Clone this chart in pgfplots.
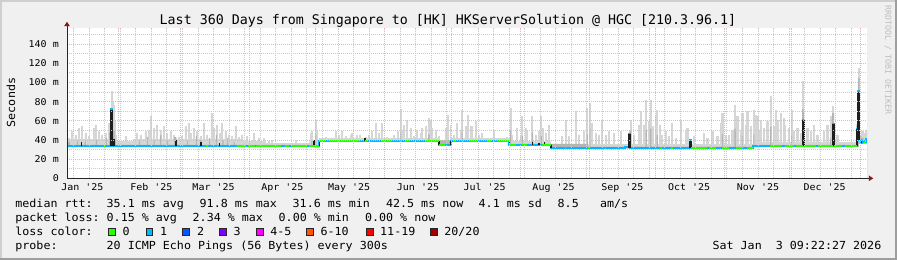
\documentclass[border=0pt]{standalone}
\usepackage{fontspec}
\usepackage{pgfplots}
\pgfplotsset{compat=1.18}
\usetikzlibrary{arrows.meta}
\newfontfamily\legfamily[FakeStretch=1.052,Ligatures=TeXOff]{DejaVu Sans Mono}
\newfontfamily\titfamily[Ligatures=TeXOff]{DejaVu Sans Mono}
\newfontfamily\tickfamily[FakeStretch=1.075,Ligatures=TeXOff]{DejaVu Sans Mono}
\newcommand\lfont{\legfamily\fontsize{11.1bp}{13bp}\selectfont}
\newcommand\tfont{\titfamily\fontsize{13.3bp}{15bp}\selectfont}
\newcommand\kfont{\tickfamily\fontsize{9.3bp}{11bp}\selectfont}
\newcommand\sfont{\titfamily\fontsize{8.3bp}{10bp}\selectfont}
\definecolor{bgc}{HTML}{F0F0F0}
\definecolor{shadeA}{HTML}{CFCFCF}
\definecolor{shadeB}{HTML}{9E9E9E}
\definecolor{arrowred}{HTML}{8B1A1A}
\definecolor{gridred}{HTML}{F5B0B0}
\definecolor{gridgray}{HTML}{CBCBCB}
\definecolor{smoke}{HTML}{D6D6D6}
\definecolor{smokemid}{HTML}{B4B4B4}
\definecolor{medblue}{HTML}{00B8FF}
\definecolor{lossgreen}{HTML}{26FF00}
\definecolor{smokeblack}{HTML}{1E1E1E}
\definecolor{lc2}{HTML}{0059FF}
\definecolor{lc3}{HTML}{7E00FF}
\definecolor{lc5}{HTML}{FF00FF}
\definecolor{lc10}{HTML}{FF5500}
\definecolor{lc19}{HTML}{FF0000}
\definecolor{lc20}{HTML}{A10000}
\definecolor{rrdgray}{HTML}{BDBDBD}
\begin{document}
\begin{tikzpicture}
\begin{scope}[x=1bp,y=1bp]
\fill[bgc] (0,0) rectangle (897,260);
\fill[shadeA] (0,0) rectangle (2,260);
\fill[shadeA] (0,258) rectangle (897,260);
\fill[shadeB] (895,0) rectangle (897,260);
\fill[shadeB] (0,0) rectangle (897,2);
\end{scope}
\begin{axis}[
  at={(67bp,81.7bp)}, anchor=south west,
  scale only axis, width=800bp, height=150.3bp,
  xmin=8.05, xmax=368.05, ymin=0, ymax=157,
  axis on top,
  axis background/.style={fill=white},
  axis lines=left,
  axis line style={draw=black!85, line width=1bp},
  x axis line style={-{Triangle[length=4.5bp,width=5.5bp,color=arrowred]}, shorten >=-6.3bp},
  y axis line style={-{Triangle[length=4.5bp,width=5.5bp,color=arrowred]}, shorten >=-6.3bp},
  major tick length=0pt, minor tick length=0pt,
  xtick={15,46,74,105,135,166,196,227,258,288,319,349},
  xticklabels={{Jan '25},{Feb '25},{Mar '25},{Apr '25},{May '25},{Jun '25},{Jul '25},{Aug '25},{Sep '25},{Oct '25},{Nov '25},{Dec '25}},
  xticklabel style={font=\kfont, anchor=base, inner sep=0pt, yshift=-12bp},
  extra x ticks={31,59,90,120,151,181,212,243,273,304,334,365},
  extra x tick labels={},
  extra x tick style={grid=major},
  minor xtick={11,18,...,361},
  xminorgrids=true,
  ytick={0,20,...,140},
  yticklabels={0,20 m,40 m,60 m,80 m,100 m,120 m,140 m},
  minor ytick={10,30,...,150},
  ymajorgrids=true, yminorgrids=true,
  yticklabel style={font=\kfont, anchor=east, inner sep=0pt, xshift=-8bp},
  major grid style={draw=gridred, line width=1bp, dash pattern=on 1bp off 1bp},
  minor grid style={draw=gridgray, line width=1bp, dash pattern=on 1bp off 1bp},
]
% smoke (max of pings)
\addplot[const plot, fill=smoke, draw=smoke, line width=0.8bp] coordinates {
(8.05,40.5)(8.64,41.8)(9.14,40.5)(10.14,48.7)(10.64,40.5)(11.64,45.3)(12.14,40.5)
(13.14,52.2)(13.64,40.5)(14.64,54.0)(15.14,40.5)(16.14,47.0)(16.64,40.5)(17.64,43.5)(18.14,40.5)
(19.89,52.2)(20.39,40.5)(20.64,55.7)(21.14,40.5)(22.14,48.7)(22.64,40.5)(23.64,45.3)(24.14,40.5)
(25.14,47.0)(25.64,40.5)(26.64,57.4)(27.14,45)(27.5,67.9)(28.0,90.5)(28.5,80)(28.9,76.6)
(29.4,60.9)(29.9,45)(30.4,38.5)(34.14,43.5)(34.64,38.5)(38,41)
(39.39,47.0)(39.89,41)(40.89,45.3)(41.39,41)(43.14,48.7)(43.64,41)(44.64,50.5)(45.14,41)
(45.69,64.4)(46.19,41)(46.89,52.2)(47.39,41)(48.39,55.7)(48.89,41)(49.89,50.5)(50.39,41)
(51.39,54.0)(51.89,41)(52.89,47.0)(53.39,41)(54.39,48.7)(54.89,41)(55.89,45.3)(56.39,41)
(58.14,43)(58.64,41)(59.64,43.5)(60.14,41)(61.14,54.0)(61.64,41)(62.64,57.4)(63.14,41)
(63.39,47.0)(63.89,41)(64.89,52.2)(65.39,41)(66.39,48.7)(66.89,41)(67.89,43.5)(68.39,41)
(69.39,57.4)(69.89,41)(70.89,45.3)(71.39,41)(72.84,67.9)(73.34,41)(73.89,52.2)(74.39,41)
(75.39,55.7)(75.89,41)(76.59,47.0)(77.09,41)(77.64,57.4)(78.14,41)(79.14,48.7)(79.64,41)
(80.64,45.3)(81.14,41)(82.14,43.5)(82.64,41)(83.64,54.0)(84.14,41)(85.14,43)(85.64,41)
(86,38.5)(86.64,45.3)(87.14,38.5)(88.89,43.5)(89.39,38.5)(91.14,40.0)(91.64,38.5)
(91.89,47.0)(92.39,38.5)(94.14,41.8)(94.64,38.5)(96.39,41.8)(96.89,38.5)
(97.2,36)(98.64,38.3)(99.14,36)(100.17,40.0)(100.67,36)(110.67,39.3)(111.17,36)
(117,38)(117.42,47.0)(117.92,48.7)(118.42,38)(119.67,60.9)(120.17,50.5)(120.67,38)
(121.6,41.5)(124.17,42.5)(124.67,41.5)(128.67,48.7)(129.17,41.5)(130.17,45.3)(130.67,41.5)
(131.37,48.7)(131.87,41.5)(133.17,43.5)(133.67,41.5)(135.42,45.3)(135.92,41.5)
(136.17,47.0)(136.67,41.5)(138.42,45.3)(138.92,41.5)(139.47,45.3)(139.97,41.5)
(142.17,43)(142.67,41.5)(143.67,45.3)(144.17,41.5)(145.17,48.7)(145.67,41.5)
(146.97,57.4)(147.47,41.5)(148.17,47.0)(148.67,41.5)(149.67,57.4)(150.17,41.5)
(151.92,43)(152.42,41.5)(154.92,45.3)(155.42,41.5)(156.72,48.7)(157.22,41.5)
(157.92,72.4)(158.42,41.5)(158.67,50.5)(159.17,41.5)(159.42,55.7)(159.92,41.5)
(160.92,60.9)(161.42,41.5)(162.42,52.2)(162.92,41.5)(163.92,43.5)(164.42,41.5)
(165.42,50.5)(165.92,41.5)(166.92,47.0)(167.42,52.2)(167.92,41.5)(169.17,54.0)(169.67,41.5)
(170.67,62.7)(171.17,41.5)(171.42,60.9)(171.92,41.5)(172.17,52.2)(172.67,41.5)
(173.67,50.5)(174.17,41.5)(175.17,43.5)(175.5,37)(178.17,52.2)(178.67,37)
(179.37,66.2)(179.87,37)(180.42,55.7)(180.7,41.5)(181.92,45.3)(182.42,41.5)
(183.42,57.4)(183.92,41.5)(184.92,50.5)(185.42,41.5)(185.67,71.4)(186.17,41.5)
(187.17,54.0)(187.67,41.5)(188.37,66.2)(188.87,41.5)(189.42,54.0)(189.92,41.5)
(190.2,54.0)(190.7,41.5)(191.7,59.2)(192.2,41.5)(193.2,45.3)(193.7,41.5)
(194.7,47.0)(195.2,41.5)(199.95,50.5)(200.45,41.5)(205.95,43)(206.45,41.5)
(207.15,38.5)(207.45,73.1)(207.95,38.5)(208.2,45.3)(208.7,38.5)(210.45,52.2)(210.95,38.5)
(211.95,43.5)(212.45,38.5)(212.7,64.4)(213.2,38.5)(214.2,52.2)(214.7,48.7)(215.2,38.5)
(217.2,64.4)(217.7,38.5)(218.7,45.3)(219.2,38.5)(220.2,48.7)(220.7,38.5)
(221.25,64.4)(221.75,38.5)(222.15,52.2)(222.65,38.5)(223.2,47.0)(223.7,38.5)
(224.7,55.7)(225.2,38.5)(225.75,35.5)(230.7,43.5)(231.2,35.5)(232.2,60.9)(232.7,35.5)
(233.7,43.5)(234.2,35.5)(236.7,69.6)(237.2,35.5)(238.2,45.3)(238.7,35.5)
(240.45,48.7)(240.95,35.5)(241.95,73.1)(242.45,35.5)(243.15,78.3)(243.65,35.5)
(244.2,57.4)(244.7,35.5)(245.7,47.0)(246.2,35.5)(247.2,45.3)(247.7,35.5)
(248.7,60.9)(249.2,35.5)(250.2,45.3)(250.7,35.5)(251.7,48.7)(252.2,35.5)
(253.95,47.0)(254.45,35.5)(256.95,48.7)(257.45,35.5)(261.45,60.9)(261.95,35.5)
(262.95,45.3)(263.45,35.5)(265.2,55.7)(265.7,35.5)(266.25,69.6)(266.75,35.5)
(267.45,55.7)(267.95,35.5)(268.5,81.8)(269.0,35.5)(269.7,59.2)(270.2,35.5)
(270.45,81.8)(270.95,35.5)(271.65,54.0)(272.15,35.5)(272.7,66.2)(273.2,35.5)
(273.45,71.4)(273.95,35.5)(274.65,55.7)(275.15,35.5)(275.7,45.3)(276.2,35.5)
(277.2,48.7)(277.7,35.5)(278.7,43.5)(279.2,35.5)(280.2,57.4)(280.7,35.5)
(281.7,41.8)(282.2,35.5)(283.97,60.9)(284.47,35.5)(286.22,48.7)(286.72,35.5)
(286.97,52.2)(287.47,35.5)(289.97,43.5)(290.47,35.5)(294.47,47.0)(294.97,35.5)
(295.97,41.8)(296.47,35.5)(298.22,48.7)(298.72,35.5)(300.47,43.5)(300.97,35.5)
(301.97,57.4)(302.47,35.5)(302.72,67.9)(303.22,35.5)(304.22,45.3)(304.72,35.5)
(305.72,45.3)(306.22,35.5)(307.22,50.5)(307.72,35.5)(308.42,76.6)(308.92,35.5)
(309.47,64.4)(309.97,35.5)(310.97,50.5)(311.47,35.5)(311.72,67.9)(312.22,35.5)
(313.22,55.7)(313.72,35.5)(313.97,69.6)(314.47,35.5)(315.47,54.0)(315.97,35.5)
(316.97,71.4)(317.47,37.5)(317.72,66.2)(318.22,37.5)(318.47,64.4)(318.97,48.7)(319.47,37.5)
(319.97,60.9)(320.47,37.5)(321.47,52.2)(321.97,37.5)(322.97,59.2)(323.47,37.5)
(324.47,85.3)(324.97,37.5)(325.97,54.0)(326.47,37.5)(326.72,71.4)(327.22,37.5)
(327.47,60.9)(327.97,37.5)(328.97,67.9)(329.47,37.5)(330.47,62.7)(330.97,55.7)(331.47,37.5)
(332.72,52.2)(333.22,37.5)(333.92,71.4)(334.42,37.5)(334.97,48.7)(335.47,37.5)
(336.47,52.2)(336.97,37.5)(337.97,47.0)(338.47,37.5)(339.1,101)(339.6,37.5)
(340.97,52.2)(341.47,37.5)(342.47,48.7)(342.97,37.5)(343.97,55.7)(344.47,37.5)
(345.47,45.3)(345.97,37.5)(348.47,48.7)(348.97,37.5)(349.97,55.7)(350.47,37.5)
(351.47,64.4)(351.97,37.5)(352.6,75)(353.1,37.5)(354.47,45.3)(354.97,37.5)
(363.2,47.0)(363.6,52)(364.1,115)(364.6,45)(365.72,48.7)(366.22,44)(366.47,47.0)
(366.97,44)(367.52,50.5)(368.05,50.5)
} \closedcycle;
% denser part of the smoke
\addplot[const plot, fill=smokemid, draw=none] coordinates {
(8.05,38)(9.5,35)(12.5,39)(13.0,35)(16,38.5)(16.5,35)(21,40)(21.5,35)(25.5,42)(26,35)
(27.0,48)(27.5,56)(28.0,62)(28.8,50)(29.5,40)(30,35)
(40.5,40)(41,35)(44,43)(44.5,35)(47,40)(47.5,35)(50,45)(50.5,35)(53,40)(53.5,35)
(56.3,43)(57.3,35)(62,40)(62.5,35)(66,44)(66.5,35)(68,40)(68.6,35)(72,42)(72.5,35)
(75,45)(75.5,35)(78,40)(78.5,35)(80,42)(80.5,35)(83,38)(83.5,35)
(118,40)(118.5,34)(119.7,46)(120.3,34)
(157.9,48)(158.4,40)(170.6,46)(171.2,40)(185.6,48)(186.2,40)
(207.4,50)(207.9,36)(212.7,44)(213.2,36)(217.2,48)(217.8,36)(221.2,44)(221.7,36)
(241.9,46)(242.4,33)(243.1,52)(243.6,33)(261.1,50)(261.9,33)(268.4,50)(269,33)
(270.4,52)(271,33)(273.4,45)(273.9,33)
(302.7,46)(303.2,33)(308.4,52)(309,33)(311.7,44)(312.2,33)(316.9,46)(317.4,35)
(324.4,54)(325,35)(333.9,44)(334.4,35)
(338.9,72)(339.7,35)(351.4,42)(351.9,35)(352.4,68)(353.2,35)(363.3,56)(364,105)
(364.7,44)(365.5,42)(366.5,40)(368.05,40)
} \closedcycle;
% floor (min of pings)
\addplot[const plot, fill=white, draw=none] coordinates {
(8.05,32.3)(9.4,33.2)(119.4,32.4)(121.6,38.3)(175.5,33.8)(180.7,38.3)(207.15,34.1)
(225.75,31.0)(316.97,33.1)(339.6,32.8)(363.5,32.8)(364.5,36)(368.05,36)
} \closedcycle;
% median rtt
\addplot[const plot, draw=medblue, line width=2bp] coordinates {
(8.05,33.3)(9.4,34.2)(28.0,72.5)(28.5,34.2)(119.4,33.4)(121.6,39.3)(175.5,34.8)(180.7,39.3)
(207.15,35.1)(225.75,32.0)(259.2,33.0)(261.15,46.5)(261.6,32.0)(288.3,39.5)(288.7,32.0)
(316.97,34.1)(339.1,61.3)(339.5,33.8)(352.6,57.0)(353.0,33.8)(363.5,52.0)(364.1,91.0)
(364.5,40.0)(365.2,37.0)(365.9,39.0)(366.6,37.5)(367.5,41.0)(368.05,41.0)
};
% dark smoke
\addplot[draw=smokeblack, line width=3.1bp, unbounded coords=jump] coordinates {
(28.25,34.2)(28.25,71.8)(28.25,nan)
(261.375,32)(261.375,45.8)(261.375,nan)
(288.5,32)(288.5,38.8)(288.5,nan)
(339.3,33.8)(339.3,60.6)(339.3,nan)
(352.8,33.8)(352.8,56.3)(352.8,nan)
(364.3,40)(364.3,90.3)
};
\addplot[draw=smokeblack, line width=2bp, unbounded coords=jump] coordinates {
(56.9,34.2)(56.9,39.6)(56.9,nan)
(68.2,34.2)(68.2,38.3)(68.2,nan)
(363.5,33.8)(363.5,52)
};
\addplot[draw=smokeblack, line width=1.5bp, unbounded coords=jump] coordinates {
(14.64,34.2)(14.64,38)(14.64,nan)
(29.2,34.2)(29.2,41)(29.2,nan)
(76.6,34.2)(76.6,36.5)(76.6,nan)
(119.2,33.4)(119.2,40)(119.2,nan)
(121.6,33.4)(121.6,39.3)(121.6,nan)
(142.2,39.3)(142.2,42)(142.2,nan)
(175.5,34.8)(175.5,39.3)(175.5,nan)
(180.7,34.8)(180.7,39.3)(180.7,nan)
(207.15,35.1)(207.15,39.3)(207.15,nan)
(217.5,35.1)(217.5,37.5)(217.5,nan)
(220.5,35.1)(220.5,37)(220.5,nan)
(223,35.1)(223,38)(223,nan)
(225.75,32)(225.75,35.1)(225.75,nan)
(365.5,36.5)(365.5,40)
};
% median segments with no loss
\addplot[draw=lossgreen, line width=2bp, unbounded coords=jump] coordinates {
(24.6,34.2)(25.1,34.2)(25.1,nan)
(70.8,34.2)(71.3,34.2)(71.3,nan)
(75.4,34.2)(75.9,34.2)(75.9,nan)
(84.4,34.2)(88.8,34.2)(88.8,nan)
(89.7,34.2)(92.5,34.2)(92.5,nan)
(93.3,34.2)(104.5,34.2)(104.5,nan)
(106,34.2)(108,34.2)(108,nan)
(109.5,34.2)(116,34.2)(116,nan)
(117,34.2)(119.4,34.2)(119.4,nan)
(119.4,33.4)(121.6,33.4)(121.6,nan)
(121.6,39.3)(124.2,39.3)(124.2,nan)
(126.5,39.3)(139.5,39.3)(139.5,nan)
(142.2,39.3)(143,39.3)(143,nan)
(149.5,39.3)(154,39.3)(154,nan)
(160,39.3)(162,39.3)(162,nan)
(169,39.3)(175.5,39.3)(175.5,nan)
(175.5,34.8)(178,34.8)(178,nan)
(182,39.3)(183,39.3)(183,nan)
(189.5,39.3)(192.5,39.3)(192.5,nan)
(197,39.3)(199,39.3)(199,nan)
(202,39.3)(207.15,39.3)(207.15,nan)
(207.15,35.1)(210,35.1)(210,nan)
(213,35.1)(215,35.1)(215,nan)
(222,35.1)(225.75,35.1)(225.75,nan)
(232,32)(232.6,32)(232.6,nan)
(242.5,32)(243.1,32)(243.1,nan)
(250,32)(250.6,32)(250.6,nan)
(275,32)(276,32)(276,nan)
(280,32)(280.6,32)(280.6,nan)
(288.7,32)(296,32)(296,nan)
(297,32)(300,32)(300,nan)
(303,32)(306,32)(306,nan)
(309,32)(312,32)(312,nan)
(314,32)(316.97,32)(316.97,nan)
(324.5,34.1)(330,34.1)(330,nan)
(331,34.1)(335,34.1)(335,nan)
(336,34.1)(339.1,34.1)(339.1,nan)
(339.5,33.8)(345,33.8)(345,nan)
(346,33.8)(352.6,33.8)(352.6,nan)
(353,33.8)(357,33.8)(357,nan)
(358,33.8)(363.5,33.8)(363.5,nan)
(366.6,37.5)(367.5,37.5)
};
\end{axis}
\begin{scope}[x=1bp,y=1bp]
\node[anchor=base, inner sep=0pt] at (448,236) {\tfont Last 360 Days from Singapore to [HK] HKServerSolution @ HGC [210.3.96.1]};
\node[rotate=90, anchor=center, inner sep=0pt] at (11,157.5) {\lfont Seconds};
\node[rotate=-90, anchor=center, inner sep=0pt, text=rrdgray] at (888,200) {\sfont RRDTOOL / TOBI OETIKER};
% row 1
\node[anchor=base west, inner sep=0pt] at (15.2,52.7) {\lfont median rtt:};
\node[anchor=base west, inner sep=0pt] at (106.5,52.7) {\lfont 35.1 ms avg};
\node[anchor=base west, inner sep=0pt] at (199.5,52.7) {\lfont 91.8 ms max};
\node[anchor=base west, inner sep=0pt] at (292.5,52.7) {\lfont 31.6 ms min};
\node[anchor=base west, inner sep=0pt] at (385.9,52.7) {\lfont 42.5 ms now};
\node[anchor=base west, inner sep=0pt] at (478.5,52.7) {\lfont 4.1 ms sd};
\node[anchor=base west, inner sep=0pt] at (557.5,52.7) {\lfont 8.5};
\node[anchor=base west, inner sep=0pt] at (599.9,52.7) {\lfont am/s};
% row 2
\node[anchor=base west, inner sep=0pt] at (15.2,38.3) {\lfont packet loss:};
\node[anchor=base west, inner sep=0pt] at (106.5,38.3) {\lfont 0.15 \% avg};
\node[anchor=base west, inner sep=0pt] at (192.5,38.3) {\lfont 2.34 \% max};
\node[anchor=base west, inner sep=0pt] at (278.5,38.3) {\lfont 0.00 \% min};
\node[anchor=base west, inner sep=0pt] at (364.9,38.3) {\lfont 0.00 \% now};
% row 3
\node[anchor=base west, inner sep=0pt] at (15.2,24.3) {\lfont loss color:};
\filldraw[fill=lossgreen, draw=black!85, line width=0.8bp] (108.7,24.7) rectangle ++(6.6,6.6);
\filldraw[fill=medblue, draw=black!85, line width=0.8bp] (146.1,24.7) rectangle ++(6.6,6.6);
\filldraw[fill=lc2, draw=black!85, line width=0.8bp] (182.7,24.7) rectangle ++(6.6,6.6);
\filldraw[fill=lc3, draw=black!85, line width=0.8bp] (219.7,24.7) rectangle ++(6.6,6.6);
\filldraw[fill=lc5, draw=black!85, line width=0.8bp] (256.7,24.7) rectangle ++(6.6,6.6);
\filldraw[fill=lc10, draw=black!85, line width=0.8bp] (306.6,24.7) rectangle ++(6.6,6.6);
\filldraw[fill=lc19, draw=black!85, line width=0.8bp] (366.4,24.7) rectangle ++(6.6,6.6);
\filldraw[fill=lc20, draw=black!85, line width=0.8bp] (430.7,24.7) rectangle ++(6.6,6.6);
\node[anchor=base west, inner sep=0pt] at (122.5,24.3) {\lfont 0};
\node[anchor=base west, inner sep=0pt] at (159.9,24.3) {\lfont 1};
\node[anchor=base west, inner sep=0pt] at (196.9,24.3) {\lfont 2};
\node[anchor=base west, inner sep=0pt] at (233.5,24.3) {\lfont 3};
\node[anchor=base west, inner sep=0pt] at (270.2,24.3) {\lfont 4-5};
\node[anchor=base west, inner sep=0pt] at (320.4,24.3) {\lfont 6-10};
\node[anchor=base west, inner sep=0pt] at (380.0,24.3) {\lfont 11-19};
\node[anchor=base west, inner sep=0pt] at (444.2,24.3) {\lfont 20/20};
% row 4
\node[anchor=base west, inner sep=0pt] at (15.2,10.7) {\lfont probe:};
\node[anchor=base west, inner sep=0pt] at (106.5,10.7) {\lfont 20 ICMP Echo Pings (56 Bytes) every 300s};
\node[anchor=base east, inner sep=0pt] at (881.5,10.7) {\lfont Sat Jan~~3 09:22:27 2026};
\end{scope}
\pgfresetboundingbox
\useasboundingbox (0,0) rectangle (897bp,260bp);
\end{tikzpicture}
\end{document}
